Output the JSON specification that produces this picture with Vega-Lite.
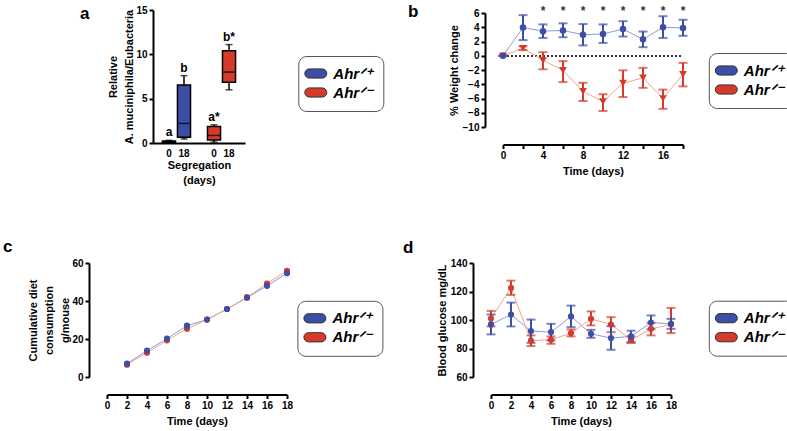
{
 "$schema": "https://vega.github.io/schema/vega-lite/v6.json",
 "background": "white",
 "padding": {"left": 3, "top": 2, "right": 2, "bottom": 2},
 "bounds": "flush",
 "spacing": 253,
 "resolve": {"scale": {"fill": "independent"}, "legend": {"fill": "independent"}},
 "datasets": {
  "akk": [
   {"cat": "B0", "g": "Ahr+/+", "min": 0.0, "q1": 0.05, "med": 0.12, "q3": 0.22, "max": 0.3, "lab": "a"},
   {"cat": "B18", "g": "Ahr+/+", "min": 0.45, "q1": 0.65, "med": 2.2, "q3": 6.55, "max": 7.6, "lab": "b"},
   {"cat": "R0", "g": "Ahr-/-", "min": 0.1, "q1": 0.35, "med": 0.85, "q3": 1.85, "max": 2.05, "lab": "a*"},
   {"cat": "R18", "g": "Ahr-/-", "min": 6.0, "q1": 6.85, "med": 8.0, "q3": 10.4, "max": 11.1, "lab": "b*"}
  ],
  "wt": [
   {"g": "Ahr-/-", "t": 0, "m": 0, "lo": 0, "hi": 0},
   {"g": "Ahr-/-", "t": 2, "m": 1.05, "lo": 0.8, "hi": 1.35},
   {"g": "Ahr-/-", "t": 4, "m": -0.65, "lo": -1.9, "hi": 0.5},
   {"g": "Ahr-/-", "t": 6, "m": -2.05, "lo": -3.7, "hi": -0.75},
   {"g": "Ahr-/-", "t": 8, "m": -5.0, "lo": -6.35, "hi": -3.8},
   {"g": "Ahr-/-", "t": 10, "m": -6.45, "lo": -7.75, "hi": -5.4},
   {"g": "Ahr-/-", "t": 12, "m": -3.85, "lo": -5.8, "hi": -2.05},
   {"g": "Ahr-/-", "t": 14, "m": -3.1, "lo": -4.5, "hi": -1.7},
   {"g": "Ahr-/-", "t": 16, "m": -6.0, "lo": -7.45, "hi": -4.75},
   {"g": "Ahr-/-", "t": 18, "m": -2.6, "lo": -4.3, "hi": -1.0},
   {"g": "Ahr+/+", "t": 0, "m": 0, "lo": 0, "hi": 0},
   {"g": "Ahr+/+", "t": 2, "m": 3.95, "lo": 2.2, "hi": 5.7},
   {"g": "Ahr+/+", "t": 4, "m": 3.45, "lo": 2.5, "hi": 4.4},
   {"g": "Ahr+/+", "t": 6, "m": 3.55, "lo": 2.6, "hi": 4.55},
   {"g": "Ahr+/+", "t": 8, "m": 2.95, "lo": 1.45, "hi": 4.45},
   {"g": "Ahr+/+", "t": 10, "m": 3.05, "lo": 1.8, "hi": 4.4},
   {"g": "Ahr+/+", "t": 12, "m": 3.75, "lo": 2.7, "hi": 4.85},
   {"g": "Ahr+/+", "t": 14, "m": 2.3, "lo": 1.2, "hi": 3.4},
   {"g": "Ahr+/+", "t": 16, "m": 4.0, "lo": 2.5, "hi": 5.55},
   {"g": "Ahr+/+", "t": 18, "m": 3.9, "lo": 2.8, "hi": 5.05}
  ],
  "sig": [{"t": 4, "v": 6.25, "s": "*"}, {"t": 6, "v": 6.25, "s": "*"}, {"t": 8, "v": 6.25, "s": "*"}, {"t": 10, "v": 6.25, "s": "*"}, {"t": 12, "v": 6.25, "s": "*"}, {"t": 14, "v": 6.25, "s": "*"}, {"t": 16, "v": 6.25, "s": "*"}, {"t": 18, "v": 6.25, "s": "*"}],
  "diet": [
   {"g": "Ahr-/-", "t": 2, "m": 6.5}, {"g": "Ahr-/-", "t": 4, "m": 12.8}, {"g": "Ahr-/-", "t": 6, "m": 19.3},
   {"g": "Ahr-/-", "t": 8, "m": 25.4}, {"g": "Ahr-/-", "t": 10, "m": 30.2}, {"g": "Ahr-/-", "t": 12, "m": 35.8},
   {"g": "Ahr-/-", "t": 14, "m": 42.0}, {"g": "Ahr-/-", "t": 16, "m": 49.2}, {"g": "Ahr-/-", "t": 18, "m": 55.9},
   {"g": "Ahr+/+", "t": 2, "m": 7.0}, {"g": "Ahr+/+", "t": 4, "m": 13.9}, {"g": "Ahr+/+", "t": 6, "m": 20.2},
   {"g": "Ahr+/+", "t": 8, "m": 27.0}, {"g": "Ahr+/+", "t": 10, "m": 30.2}, {"g": "Ahr+/+", "t": 12, "m": 35.8},
   {"g": "Ahr+/+", "t": 14, "m": 41.7}, {"g": "Ahr+/+", "t": 16, "m": 48.0}, {"g": "Ahr+/+", "t": 18, "m": 54.6}
  ],
  "glu": [
   {"g": "Ahr-/-", "t": 0, "m": 101.0, "lo": 95.5, "hi": 106.4},
   {"g": "Ahr-/-", "t": 2, "m": 122.5, "lo": 117.6, "hi": 127.6},
   {"g": "Ahr-/-", "t": 4, "m": 85.5, "lo": 81.7, "hi": 89.2},
   {"g": "Ahr-/-", "t": 6, "m": 86.2, "lo": 83.3, "hi": 88.5},
   {"g": "Ahr-/-", "t": 8, "m": 90.8, "lo": 88.5, "hi": 93.4},
   {"g": "Ahr-/-", "t": 10, "m": 100.8, "lo": 96.2, "hi": 106.0},
   {"g": "Ahr-/-", "t": 12, "m": 96.8, "lo": 91.5, "hi": 102.0},
   {"g": "Ahr-/-", "t": 14, "m": 86.0, "lo": 83.8, "hi": 88.5},
   {"g": "Ahr-/-", "t": 16, "m": 93.8, "lo": 89.2, "hi": 98.0},
   {"g": "Ahr-/-", "t": 18, "m": 97.0, "lo": 90.8, "hi": 108.5},
   {"g": "Ahr+/+", "t": 0, "m": 96.9, "lo": 89.9, "hi": 103.8},
   {"g": "Ahr+/+", "t": 2, "m": 103.8, "lo": 95.5, "hi": 112.2},
   {"g": "Ahr+/+", "t": 4, "m": 92.2, "lo": 84.0, "hi": 100.3},
   {"g": "Ahr+/+", "t": 6, "m": 91.5, "lo": 85.7, "hi": 97.3},
   {"g": "Ahr+/+", "t": 8, "m": 102.5, "lo": 95.0, "hi": 110.1},
   {"g": "Ahr+/+", "t": 10, "m": 90.3, "lo": 87.5, "hi": 93.1},
   {"g": "Ahr+/+", "t": 12, "m": 87.3, "lo": 79.1, "hi": 95.7},
   {"g": "Ahr+/+", "t": 14, "m": 88.5, "lo": 84.5, "hi": 92.5},
   {"g": "Ahr+/+", "t": 16, "m": 98.2, "lo": 93.5, "hi": 103.2},
   {"g": "Ahr+/+", "t": 18, "m": 97.3, "lo": 93.8, "hi": 100.8}
  ]
 },
 "vconcat": [
  {
   "bounds": "flush",
   "spacing": 0,
   "resolve": {"scale": {"fill": "independent"}, "legend": {"fill": "independent"}},
   "hconcat": [
    {"width": 46, "height": 1, "data": {"values": []}, "mark": "point"},
    {
     "width": 92, "height": 133,
     "title": {"text": "a", "anchor": "start", "frame": "group", "offset": 0, "dx": -73, "dy": 31, "fontSize": 17, "fontWeight": "bold", "font": "Liberation Sans", "baseline": "alphabetic", "color": "#000"},
     "data": {"name": "akk"},
     "encoding": {
      "x": {"field": "cat", "type": "nominal", "scale": {"domain": ["B0", "B18", "gap", "R0", "R18"], "paddingInner": 0.13, "paddingOuter": 0.63},
            "axis": {"labelExpr": "datum.value == 'gap' ? '' : slice(datum.value, 1)", "ticks": false, "labelAngle": 0, "labelPadding": 5, "title": ["Segregation", "(days)"], "titlePadding": 1, "titleLineHeight": 15}}
     },
     "layer": [
      {"mark": {"type": "rule", "color": "#000", "strokeWidth": 1.5},
       "encoding": {"y": {"field": "min", "type": "quantitative", "scale": {"domain": [0, 15], "nice": false}, "axis": {"values": [0, 5, 10, 15], "title": ["Relative", "A. muciniphila/Eubacteria"], "titlePadding": 1, "titleLineHeight": 16}}, "y2": {"field": "max"}}},
      {"mark": {"type": "bar", "stroke": "#000", "strokeWidth": 1.5},
       "encoding": {"y": {"field": "q1", "type": "quantitative"}, "y2": {"field": "q3"},
        "fill": {"field": "g", "type": "nominal", "scale": {"domain": ["Ahr+/+", "Ahr-/-"], "range": ["#3C4EA6", "#D63A2B"]},
                 "legend": {"orient": "none", "legendX": 145.3, "legendY": 46, "title": null, "labelExpr": "datum.value == 'Ahr+/+' ? 'Ahr\u141f\u207a' : 'Ahr\u141f\u207b'"}}}},
      {"mark": {"type": "tick", "orient": "horizontal", "size": 13, "thickness": 1.5, "color": "#000"}, "encoding": {"y": {"field": "med", "type": "quantitative"}}},
      {"mark": {"type": "tick", "orient": "horizontal", "size": 7, "thickness": 1.5, "color": "#000"}, "encoding": {"y": {"field": "min", "type": "quantitative"}}},
      {"mark": {"type": "tick", "orient": "horizontal", "size": 7, "thickness": 1.5, "color": "#000"}, "encoding": {"y": {"field": "max", "type": "quantitative"}}},
      {"mark": {"type": "text", "dy": -4, "baseline": "alphabetic", "fontSize": 12, "fontWeight": "bold", "font": "Liberation Sans", "color": "#000"},
       "encoding": {"y": {"field": "max", "type": "quantitative"}, "text": {"field": "lab"}}}
     ]
    },
    {"width": 257.7, "height": 1, "data": {"values": []}, "mark": "point"},
    {
     "bounds": "flush",
     "spacing": 0,
     "resolve": {"scale": {"fill": "independent"}, "legend": {"fill": "independent"}},
     "vconcat": [
      {"width": 180, "height": 3, "data": {"values": []}, "mark": "point"},
      {
       "width": 180, "height": 114,
       "title": {"text": "b", "anchor": "start", "frame": "group", "offset": 0, "dx": -95, "dy": 28.3, "fontSize": 17, "fontWeight": "bold", "font": "Liberation Sans", "baseline": "alphabetic", "color": "#000"},
       "data": {"name": "wt"},
       "encoding": {
        "x": {"field": "t", "type": "quantitative", "scale": {"domain": [0, 18], "nice": false},
              "axis": {"values": [0, 2, 4, 6, 8, 10, 12, 14, 16, 18], "labelExpr": "datum.value % 4 == 0 ? datum.label : ''", "offset": 17.5, "title": "Time (days)", "titlePadding": 5, "labelAngle": 0}},
        "y": {"field": "m", "type": "quantitative", "scale": {"domain": [-10, 6], "nice": false},
              "axis": {"values": [-10, -8, -6, -4, -2, 0, 2, 4, 6], "offset": 18, "title": "% Weight change", "titlePadding": 3}}
       },
       "layer": [
        {"mark": {"type": "rule", "strokeDash": [2, 2], "color": "#333", "strokeWidth": 1.5}, "encoding": {"x": {"datum": 0}, "x2": {"datum": 18}, "y": {"datum": 0}}},
        {"transform": [{"filter": "datum.g == 'Ahr+/+'"}], "mark": {"type": "line", "strokeWidth": 1, "color": "#8F99DA"}, "encoding": {}},
        {"transform": [{"filter": "datum.g == 'Ahr-/-'"}], "mark": {"type": "line", "strokeWidth": 1, "color": "#F2A488"}, "encoding": {}},
        {"transform": [{"filter": "datum.g == 'Ahr+/+'"}], "mark": {"type": "rule", "strokeWidth": 2, "color": "#3C4EA6"}, "encoding": {"y": {"field": "lo", "type": "quantitative"}, "y2": {"field": "hi"}}},
        {"transform": [{"filter": "datum.g == 'Ahr+/+'"}], "mark": {"type": "tick", "orient": "horizontal", "size": 9, "thickness": 2, "color": "#3C4EA6"}, "encoding": {"y": {"field": "lo", "type": "quantitative"}}},
        {"transform": [{"filter": "datum.g == 'Ahr+/+'"}], "mark": {"type": "tick", "orient": "horizontal", "size": 9, "thickness": 2, "color": "#3C4EA6"}, "encoding": {"y": {"field": "hi", "type": "quantitative"}}},
        {"transform": [{"filter": "datum.g == 'Ahr-/-'"}], "mark": {"type": "rule", "strokeWidth": 2, "color": "#D63A2B"}, "encoding": {"y": {"field": "lo", "type": "quantitative"}, "y2": {"field": "hi"}}},
        {"transform": [{"filter": "datum.g == 'Ahr-/-'"}], "mark": {"type": "tick", "orient": "horizontal", "size": 9, "thickness": 2, "color": "#D63A2B"}, "encoding": {"y": {"field": "lo", "type": "quantitative"}}},
        {"transform": [{"filter": "datum.g == 'Ahr-/-'"}], "mark": {"type": "tick", "orient": "horizontal", "size": 9, "thickness": 2, "color": "#D63A2B"}, "encoding": {"y": {"field": "hi", "type": "quantitative"}}},
        {"transform": [{"filter": "datum.g == 'Ahr-/-'"}], "mark": {"type": "point", "filled": true, "opacity": 1, "size": 60, "shape": "triangle-down"},
         "encoding": {"fill": {"field": "g", "type": "nominal", "scale": {"domain": ["Ahr+/+", "Ahr-/-"], "range": ["#3C4EA6", "#D63A2B"]},
                   "legend": {"orient": "none", "legendX": 205.8, "legendY": 40, "title": null, "labelExpr": "datum.value == 'Ahr+/+' ? 'Ahr\u141f\u207a' : 'Ahr\u141f\u207b'"}}}},
        {"transform": [{"filter": "datum.g == 'Ahr+/+'"}], "mark": {"type": "point", "filled": true, "opacity": 1, "size": 42, "shape": "circle"},
         "encoding": {"fill": {"field": "g", "type": "nominal", "scale": {"domain": ["Ahr+/+", "Ahr-/-"], "range": ["#3C4EA6", "#D63A2B"]},
                   "legend": {"orient": "none", "legendX": 205.8, "legendY": 40, "title": null, "labelExpr": "datum.value == 'Ahr+/+' ? 'Ahr\u141f\u207a' : 'Ahr\u141f\u207b'"}}}},
        {"data": {"name": "sig"}, "mark": {"type": "text", "fontSize": 12, "fontWeight": "bold", "font": "Liberation Sans", "color": "#333", "baseline": "middle"},
         "encoding": {"x": {"field": "t", "type": "quantitative"}, "y": {"field": "v", "type": "quantitative"}, "text": {"field": "s", "type": "nominal"}}}
       ]
      }
     ]
    }
   ]
  },
  {
   "bounds": "flush",
   "spacing": 0,
   "resolve": {"scale": {"fill": "independent"}, "legend": {"fill": "independent"}},
   "hconcat": [
    {
     "width": 180, "height": 114,
     "title": {"text": "c", "anchor": "start", "frame": "group", "offset": 0, "dx": -104, "dy": 11.3, "fontSize": 17, "fontWeight": "bold", "font": "Liberation Sans", "baseline": "alphabetic", "color": "#000"},
     "data": {"name": "diet"},
     "encoding": {
      "x": {"field": "t", "type": "quantitative", "scale": {"domain": [0, 18], "nice": false},
            "axis": {"values": [0, 2, 4, 6, 8, 10, 12, 14, 16, 18], "offset": 17.5, "title": "Time (days)", "titlePadding": 5, "labelAngle": 0}},
      "y": {"field": "m", "type": "quantitative", "scale": {"domain": [0, 60], "nice": false},
            "axis": {"values": [0, 20, 40, 60], "offset": 18, "title": ["Cumulative diet", "consumption", "g/mouse"], "titlePadding": 1, "titleLineHeight": 16}}
     },
     "layer": [
      {"transform": [{"filter": "datum.g == 'Ahr+/+'"}], "mark": {"type": "line", "strokeWidth": 1, "color": "#8F99DA"}, "encoding": {}},
      {"transform": [{"filter": "datum.g == 'Ahr-/-'"}], "mark": {"type": "line", "strokeWidth": 1, "color": "#F2A488"}, "encoding": {}},
      {"mark": {"type": "point", "filled": true, "opacity": 1, "size": 38, "shape": "circle"},
       "encoding": {
        "fill": {"field": "g", "type": "nominal", "scale": {"domain": ["Ahr+/+", "Ahr-/-"], "range": ["#3C4EA6", "#D63A2B"]},
                 "legend": {"orient": "none", "legendX": 190.4, "legendY": 37.8, "title": null, "labelExpr": "datum.value == 'Ahr+/+' ? 'Ahr\u141f\u207a' : 'Ahr\u141f\u207b'"}}}}
     ]
    },
    {"width": 203.7, "height": 1, "data": {"values": []}, "mark": "point"},
    {
     "width": 180, "height": 114,
     "title": {"text": "d", "anchor": "start", "frame": "group", "offset": 0, "dx": -88, "dy": 11.7, "fontSize": 17, "fontWeight": "bold", "font": "Liberation Sans", "baseline": "alphabetic", "color": "#000"},
     "data": {"name": "glu"},
     "encoding": {
      "x": {"field": "t", "type": "quantitative", "scale": {"domain": [0, 18], "nice": false},
            "axis": {"values": [0, 2, 4, 6, 8, 10, 12, 14, 16, 18], "offset": 17.5, "title": "Time (days)", "titlePadding": 5, "labelAngle": 0}},
      "y": {"field": "m", "type": "quantitative", "scale": {"domain": [60, 140], "nice": false},
            "axis": {"values": [60, 80, 100, 120, 140], "offset": 18, "title": "Blood glucose mg/dL", "titlePadding": 3}}
     },
     "layer": [
      {"transform": [{"filter": "datum.g == 'Ahr+/+'"}], "mark": {"type": "line", "strokeWidth": 1, "color": "#8F99DA"}, "encoding": {}},
      {"transform": [{"filter": "datum.g == 'Ahr-/-'"}], "mark": {"type": "line", "strokeWidth": 1, "color": "#F2A488"}, "encoding": {}},
      {"transform": [{"filter": "datum.g == 'Ahr-/-'"}], "mark": {"type": "rule", "strokeWidth": 2, "color": "#D63A2B"}, "encoding": {"y": {"field": "lo", "type": "quantitative"}, "y2": {"field": "hi"}}},
      {"transform": [{"filter": "datum.g == 'Ahr-/-'"}], "mark": {"type": "tick", "orient": "horizontal", "size": 9, "thickness": 2, "color": "#D63A2B"}, "encoding": {"y": {"field": "lo", "type": "quantitative"}}},
      {"transform": [{"filter": "datum.g == 'Ahr-/-'"}], "mark": {"type": "tick", "orient": "horizontal", "size": 9, "thickness": 2, "color": "#D63A2B"}, "encoding": {"y": {"field": "hi", "type": "quantitative"}}},
      {"transform": [{"filter": "datum.g == 'Ahr+/+'"}], "mark": {"type": "rule", "strokeWidth": 2, "color": "#3C4EA6"}, "encoding": {"y": {"field": "lo", "type": "quantitative"}, "y2": {"field": "hi"}}},
      {"transform": [{"filter": "datum.g == 'Ahr+/+'"}], "mark": {"type": "tick", "orient": "horizontal", "size": 9, "thickness": 2, "color": "#3C4EA6"}, "encoding": {"y": {"field": "lo", "type": "quantitative"}}},
      {"transform": [{"filter": "datum.g == 'Ahr+/+'"}], "mark": {"type": "tick", "orient": "horizontal", "size": 9, "thickness": 2, "color": "#3C4EA6"}, "encoding": {"y": {"field": "hi", "type": "quantitative"}}},
      {"mark": {"type": "point", "filled": true, "opacity": 1, "size": 38, "shape": "circle"},
       "encoding": {
        "fill": {"field": "g", "type": "nominal", "scale": {"domain": ["Ahr+/+", "Ahr-/-"], "range": ["#3C4EA6", "#D63A2B"]},
                 "legend": {"orient": "none", "legendX": 217.8, "legendY": 37.7, "title": null, "labelExpr": "datum.value == 'Ahr+/+' ? 'Ahr\u141f\u207a' : 'Ahr\u141f\u207b'"}}}}
     ]
    }
   ]
  }
 ],
 "config": {
  "view": {"stroke": null},
  "font": "Liberation Sans",
  "axis": {"domainColor": "#000", "domainWidth": 2, "tickColor": "#000", "tickWidth": 2, "tickSize": 4, "grid": false,
           "labelFont": "Liberation Sans", "labelFontWeight": "bold", "labelFontSize": 10, "labelColor": "#000", "labelPadding": 2,
           "labelFlush": false, "labelOverlap": false,
           "titleFont": "Liberation Sans", "titleFontWeight": "bold", "titleFontSize": 11, "titleColor": "#000"},
  "legend": {"strokeColor": "#555", "fillColor": "#fff", "cornerRadius": 8, "padding": 10,
             "labelFont": "Liberation Sans", "labelFontSize": 15, "labelFontWeight": "bold", "labelFontStyle": "italic", "labelColor": "#000", "labelLimit": 200,
             "symbolType": "M-1.829,-1.314L1.829,-1.314A1.314,1.314 0 0 1 1.829,1.314L-1.829,1.314A1.314,1.314 0 0 1 -1.829,-1.314Z",
             "symbolSize": 49, "symbolStrokeColor": "#333", "symbolStrokeWidth": 1, "labelOffset": 10, "rowPadding": 3}
 }
}
